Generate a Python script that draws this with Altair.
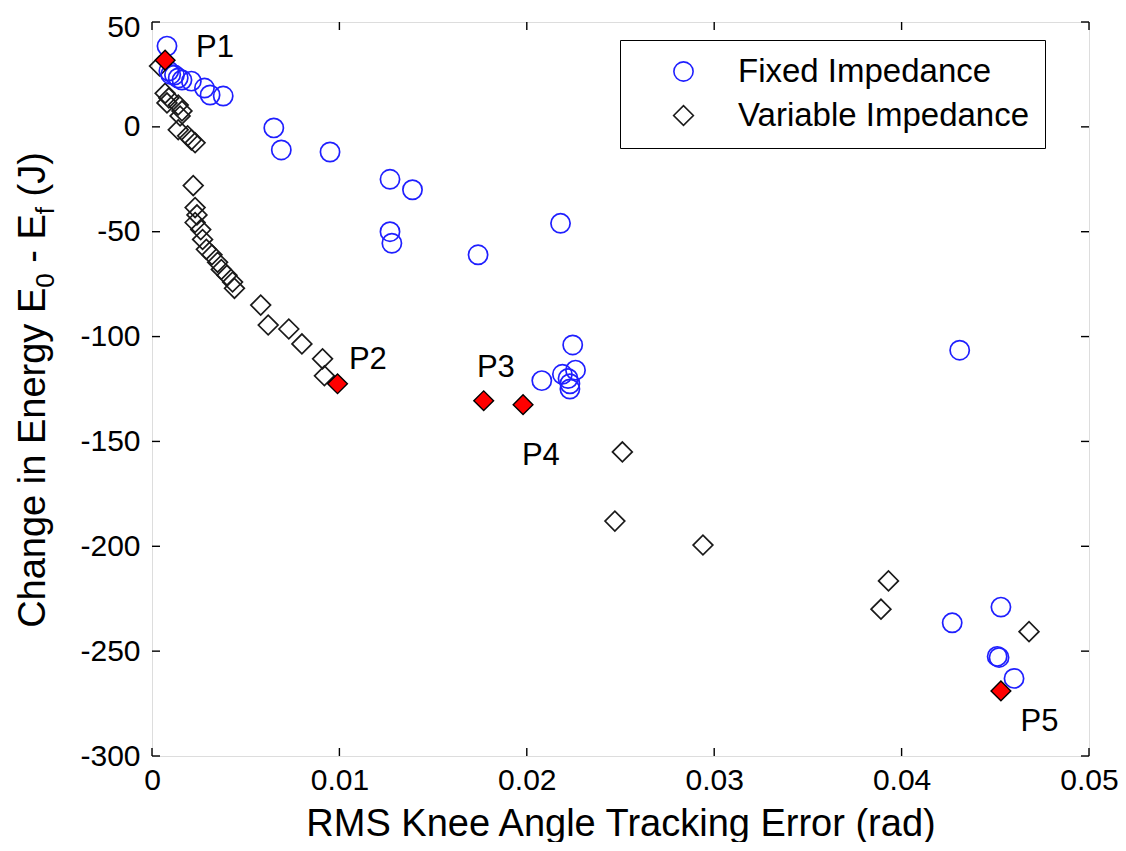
import altair as alt
import pandas as pd

# ---------------- data ----------------
fixed_x = [0.0008, 0.0009, 0.0010, 0.0012, 0.0014, 0.0016, 0.0021, 0.0028, 0.0031, 0.0038,
           0.0065, 0.0069, 0.0095, 0.0127, 0.0139, 0.0127, 0.0128,
           0.0218, 0.0174, 0.02245, 0.0208, 0.0219, 0.0226, 0.0222, 0.0223, 0.0223,
           0.0431, 0.0427, 0.0453, 0.0451, 0.0452, 0.0460]
fixed_y = [38.5, 26.6, 25.0, 24.7, 23.3, 22.3, 21.8, 18.5, 15.2, 14.7,
           -0.5, -11, -12, -25, -30, -50, -55.5,
           -46, -61, -104, -121, -118, -116, -120, -125, -122.5,
           -106.5, -236.5, -229, -252.5, -253, -263]

var_x = [0.0004, 0.0007, 0.0009, 0.0008, 0.0014, 0.0016, 0.0015, 0.0014, 0.0019, 0.0021, 0.0023,
         0.0022, 0.0023, 0.0024, 0.0023, 0.0026, 0.0027, 0.0029, 0.0032, 0.0035, 0.0037, 0.0040,
         0.0043, 0.0044, 0.0058, 0.0062, 0.0073, 0.0080, 0.0091, 0.0092,
         0.0247, 0.0251, 0.0294, 0.0389, 0.0393, 0.0468]
var_y = [29, 16, 13.8, 11.4, 10.4, 7.6, 5.2, -1.4, -4.3, -6.2, -7.6,
         -28, -38.5, -42, -45.6, -49, -53.7, -58.4, -61, -64.6, -68, -70.8,
         -74, -77, -85, -94.5, -96.4, -103.5, -110.6, -118.7,
         -188, -155, -199.4, -230, -216.5, -240.7]

p_x = [0.0007, 0.0099, 0.0177, 0.0198, 0.0453]
p_y = [31.8, -122.5, -130.6, -132.5, -269]

p_labels = ["P1", "P2", "P3", "P4", "P5"]
p_label_x = [0.00336, 0.01152, 0.01835, 0.02075, 0.04736]
p_label_y = [37.5, -111, -115, -157, -284]

series_names = ["Fixed Impedance", "Variable Impedance"]
x_ticks = [0, 0.01, 0.02, 0.03, 0.04, 0.05]
y_ticks = [-300, -250, -200, -150, -100, -50, 0, 50]

# ---------------- layout ----------------
TOP = 14
W, H = 937, 757 - 8 - TOP - 1
FONT = "Liberation Sans"
BLUE = "#1f1fff"

pts = pd.DataFrame({
    "x": var_x + fixed_x,
    "y": var_y + fixed_y,
    "series": [series_names[1]] * len(var_x) + [series_names[0]] * len(fixed_x),
})
red = pd.DataFrame({"x": p_x, "y": p_y})
lab = pd.DataFrame({"x": p_label_x, "y": p_label_y, "t": p_labels})
xt = pd.DataFrame({"v": x_ticks})
yt = pd.DataFrame({"v": y_ticks})

xscale = alt.Scale(domain=[0, 0.05], nice=False, zero=False)
yscale = alt.Scale(domain=[-300, 50], nice=False, zero=False)

leg = alt.Legend(
    title=None, orient="none", legendX=468, legendY=40 - 8 - TOP,
    strokeColor="black", fillColor="white", padding=15,
    labelFontSize=33, labelFont=FONT, labelColor="black",
    symbolSize=400, symbolStrokeWidth=1.6, labelOffset=38,
    symbolOffset=32, rowPadding=10, labelLimit=500,
)

base_x = alt.X("x:Q", scale=xscale, axis=alt.Axis(
    values=x_ticks, title="RMS Knee Angle Tracking Error (rad)",
    labelExpr="datum.value == 0 ? '0' : format(datum.value, '.2f')",
    ticks=False, domain=False, grid=False, labelFontSize=30, labelFont=FONT,
    labelColor="black", labelPadding=9, titleFontSize=38, titleFont=FONT,
    titleFontWeight="normal", titleColor="black", titlePadding=10, labelFlush=False))
base_y = alt.Y("y:Q", scale=yscale, axis=alt.Axis(
    values=y_ticks, title=None, labelExpr="'' + datum.value",
    ticks=False, domain=False, grid=False, labelFontSize=30, labelFont=FONT,
    labelColor="black", labelPadding=12, labelFlush=False,
    labelOffset={"condition": {"test": "datum.value == 50", "value": 5}, "value": 0}))

points = alt.Chart(pts).mark_point(filled=False, strokeWidth=1.7, opacity=1).encode(
    x=base_x, y=base_y,
    color=alt.Color("series:N", scale=alt.Scale(domain=series_names, range=[BLUE, "#1a1a1a"]), legend=leg),
    shape=alt.Shape("series:N", scale=alt.Scale(domain=series_names, range=["circle", "diamond"]), legend=leg),
    size=alt.Size("series:N", scale=alt.Scale(domain=series_names, range=[370, 390]), legend=None),
    order=alt.Order("series:N", sort="descending"),
)

red_pts = alt.Chart(red).mark_point(shape="diamond", filled=True, fill="#ff0000",
                                    stroke="black", strokeWidth=1.4, size=390, opacity=1).encode(
    x=alt.X("x:Q", scale=xscale), y=alt.Y("y:Q", scale=yscale))

labels = alt.Chart(lab).mark_text(font=FONT, fontSize=31, color="black", align="center",
                                  baseline="middle").encode(
    x=alt.X("x:Q", scale=xscale), y=alt.Y("y:Q", scale=yscale), text="t:N")

tick_len = 8
tb = alt.Chart(xt).mark_rule(color="black", strokeWidth=1.4).encode(
    x=alt.X("v:Q", scale=xscale), y=alt.value(H), y2=alt.value(H - tick_len))
tt = alt.Chart(xt).mark_rule(color="black", strokeWidth=1.4).encode(
    x=alt.X("v:Q", scale=xscale), y=alt.value(0), y2=alt.value(tick_len))
tl = alt.Chart(yt).mark_rule(color="black", strokeWidth=1.4).encode(
    y=alt.Y("v:Q", scale=yscale), x=alt.value(0), x2=alt.value(tick_len))
tr = alt.Chart(yt).mark_rule(color="black", strokeWidth=1.4).encode(
    y=alt.Y("v:Q", scale=yscale), x=alt.value(W), x2=alt.value(W - tick_len))

# ---------------- y title with subscripts ----------------
TS, SS = 38, 26
aw = {"C": .722, "h": .556, "a": .556, "n": .556, "g": .556, "e": .556, " ": .278, "i": .222,
      "E": .667, "r": .333, "y": .5, "0": .556, "-": .333, "f": .278, "(": .333, "J": .5, ")": .333}
pieces = [("Change in Energy E", TS, 0), ("0", SS, 1), (" - E", TS, 0), ("f", SS, 1), (" (J)", TS, 0)]
lengths = [sum(aw[c] for c in s) * sz for s, sz, _ in pieces]
total = sum(lengths)
center = 390 - 8 - TOP
pos = center + total / 2
rows = []
for (s, sz, sub), L in zip(pieces, lengths):
    lead = (len(s) - len(s.lstrip(" "))) * aw[" "] * sz
    rows.append({"t": s.lstrip(" "), "py": pos - lead, "px": -107 + (9 if sub else 0), "fs": sz})
    pos -= L
ttl = pd.DataFrame(rows)
ytitle = alt.Chart(ttl).mark_text(font=FONT, color="black", angle=270, align="left",
                                  baseline="alphabetic").encode(
    x=alt.X("px:Q", scale=None), y=alt.Y("py:Q", scale=None), text="t:N",
    size=alt.Size("fs:Q", scale=None, legend=None))

chart = alt.layer(tb, tt, tl, tr, points, red_pts, labels, ytitle).properties(
    width=W, height=H,
    autosize=alt.AutoSizeParams(type="none"),
    padding={"left": 144, "top": TOP, "right": 29, "bottom": 86},
).configure_view(stroke="black", strokeWidth=1.5).configure(background="white")

chart.save("out.html", embed_options={"renderer": "svg", "actions": False})
